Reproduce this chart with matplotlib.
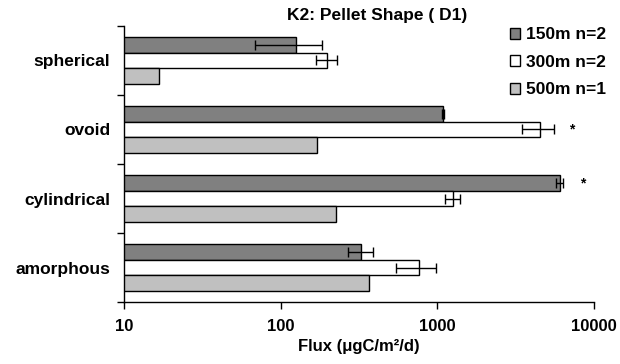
import matplotlib
matplotlib.use("Agg")
import matplotlib.pyplot as plt
import numpy as np

plt.rcParams['font.family'] = ['Liberation Sans', 'DejaVu Sans']
plt.rcParams['font.weight'] = 'bold'

categories = ["spherical", "ovoid", "cylindrical", "amorphous"]
series = ["150m n=2", "300m n=2", "500m n=1"]
colors = ["#808080", "#ffffff", "#c0c0c0"]
values_150 = [126, 1090, 6040, 328]
errors_150 = [57, 15, 300, 60]
values_300 = [199, 4500, 1260, 767]
errors_300 = [30, 1050, 140, 220]
values_500 = [16.7, 170, 226, 369]
errors_500 = [0, 0, 0, 0]
# significance stars: (category index, series index, x position)
stars = [(1, 1, 7200), (2, 0, 8500)]
xticks = [10, 100, 1000, 10000]

fig = plt.figure(figsize=(6.2, 3.64), dpi=100)
ax = fig.add_axes([0.2, 0.1703, 0.758, 0.7583])

vals = [values_150, values_300, values_500]
errs = [errors_150, errors_300, errors_500]
bh = 0.225
n = len(categories)
centers = np.arange(n)
for i, (v, e, c, lab) in enumerate(zip(vals, errs, colors, series)):
    y = centers + (i - 1) * bh
    ax.barh(y, v, height=bh, left=0, color=c, edgecolor='black', linewidth=1.0, label=lab)
    ee = np.array(e, dtype=float)
    mask = ee > 0
    if mask.any():
        ax.errorbar(np.array(v)[mask], y[mask], xerr=ee[mask], fmt='none',
                    ecolor='black', elinewidth=1.0, capsize=3.5, capthick=1.0)

for ci, si, xs in stars:
    ax.text(xs, centers[ci] + (si - 1) * bh, "*", ha='center', va='center', fontsize=10, fontweight='bold')

ax.set_xscale('log')
ax.set_xlim(10, 10000)
ax.set_ylim(n - 0.5, -0.5)
ax.set_xticks(xticks)
ax.set_xticklabels([str(t) for t in xticks], fontsize=12, fontweight='bold')
ax.xaxis.set_minor_locator(matplotlib.ticker.NullLocator())
ax.set_yticks(np.arange(n + 1) - 0.5)
ax.set_yticklabels([])
ax.set_yticks(centers, minor=True)
ax.set_yticklabels(categories, minor=True, fontsize=12.5, fontweight='bold')
ax.tick_params(axis='y', which='minor', length=0, pad=10)
ax.tick_params(axis='both', which='major', direction='out', length=5, width=1)
ax.tick_params(axis='x', pad=7)
for s in ['top', 'right']:
    ax.spines[s].set_visible(False)
for s in ['left', 'bottom']:
    ax.spines[s].set_linewidth(1.0)

ax.set_xlabel("Flux (\u03bcgC/m\u00b2/d)", fontsize=12, fontweight='bold', labelpad=4)
fig.text(0.608, 0.957, "K2: Pellet Shape ( D1)", ha='center', va='center', fontsize=12.5, fontweight='bold')

leg = fig.legend(loc='upper left', bbox_to_anchor=(0.822, 0.925), frameon=False,
                 fontsize=12.5, handlelength=0.6, handleheight=0.6, handletextpad=0.35,
                 labelspacing=0.72, borderaxespad=0, borderpad=0)
for t in leg.get_texts():
    t.set_fontweight('bold')

fig.savefig("out.png", dpi=100)
